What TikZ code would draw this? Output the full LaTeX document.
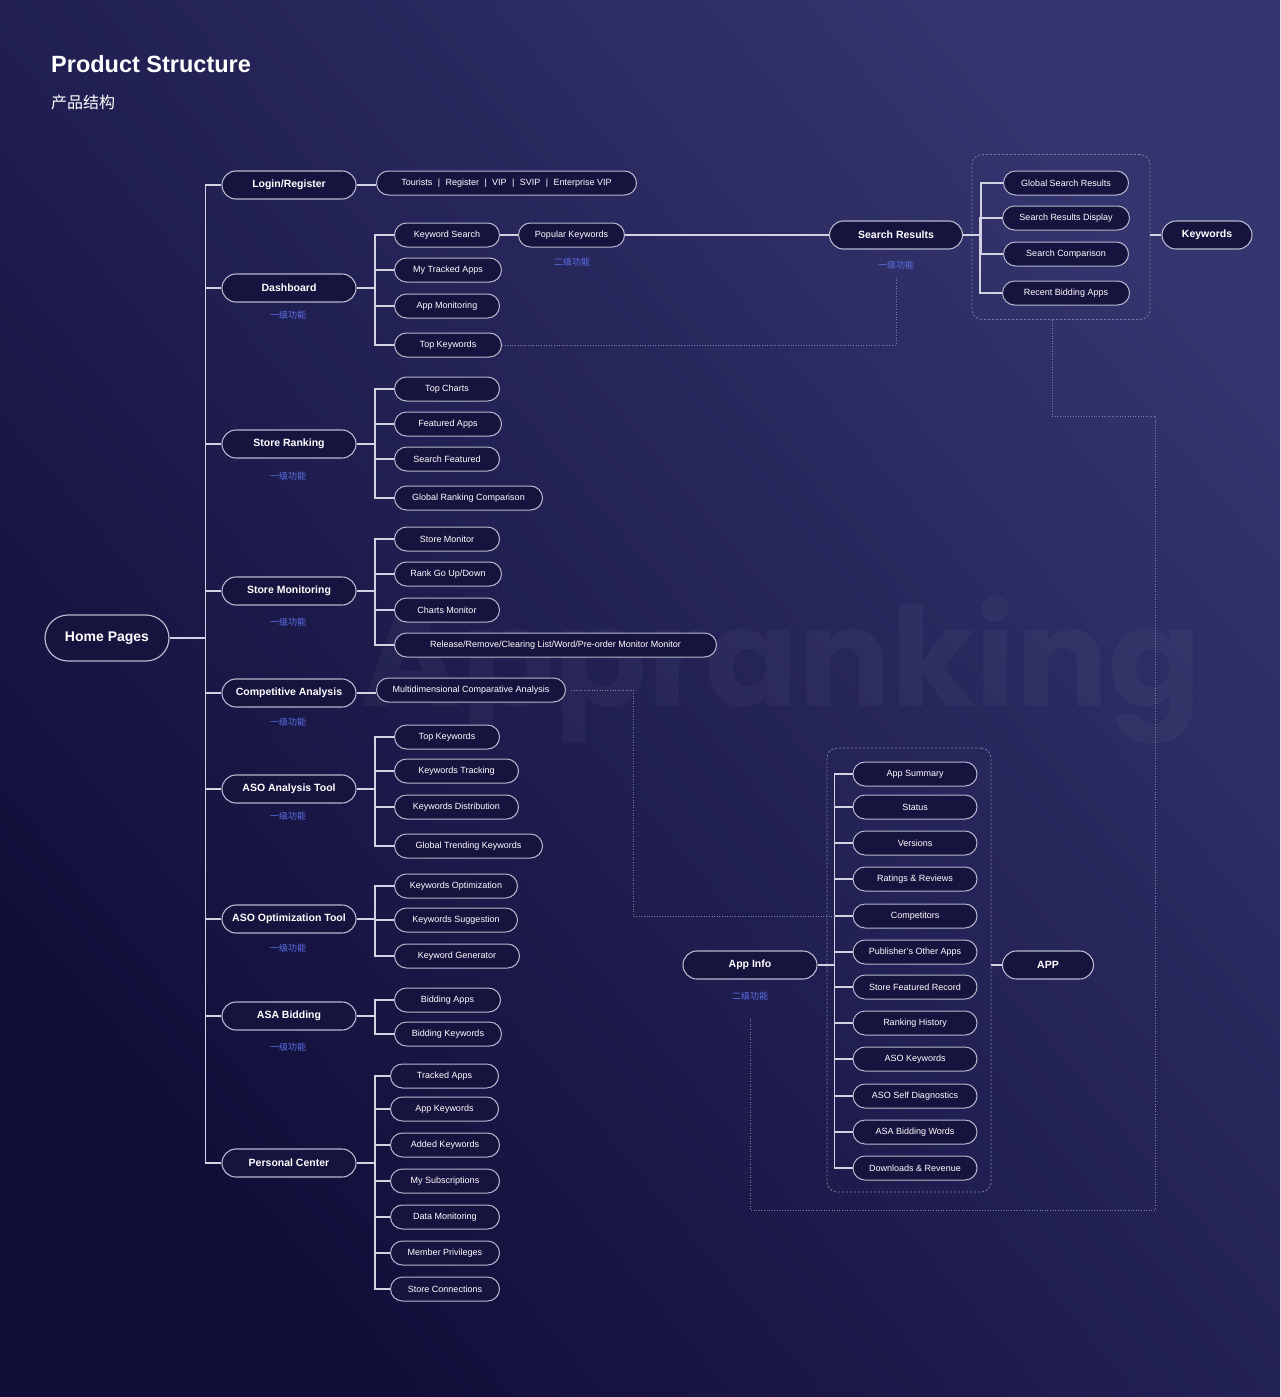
\documentclass[tikz,border=0pt]{standalone}
\usepackage{fontspec}
\setmainfont{Liberation Sans}
\newfontfamily\cjk{Noto Sans CJK SC}
\newfontfamily\markfont{Poppins}
\usepackage{tikz}
\usetikzlibrary{shapes.misc}
\definecolor{bgTop}{HTML}{34346E}
\definecolor{bgBot}{HTML}{100D38}
\definecolor{nodeFill}{HTML}{16133F}
\definecolor{edge}{HTML}{B7B7CE}
\definecolor{wire}{HTML}{D2D2E2}
\definecolor{tagBlue}{HTML}{5C70E8}
\definecolor{dotGray}{HTML}{7E7EA6}
\tikzstyle{homeBox} = [rounded rectangle, draw=edge, line width=1.2, fill=nodeFill, text=white, minimum width=124, minimum height=46, inner sep=0, font=\fontsize{14}{16}\selectfont\bfseries]
\tikzstyle{level} = [rounded rectangle, draw=edge, line width=1.1, fill=nodeFill, text=white, minimum width=134, minimum height=28, inner sep=0, font=\fontsize{10.5}{12}\selectfont\bfseries]
\tikzstyle{sub} = [rounded rectangle, draw=edge, line width=1, fill=nodeFill, text=white, minimum width=105, minimum height=24, inner sep=0, font=\fontsize{9}{10}\selectfont]
\tikzstyle{tag} = [text=tagBlue, inner sep=0, font=\cjk\fontsize{9}{10}\selectfont]
\tikzstyle{group} = [draw=dotGray, line width=0.8, dash pattern=on 2 off 2, rounded corners=10, minimum width=178, minimum height=165]
\tikzstyle{link} = [draw=wire, line width=1.2]
\tikzstyle{dotline} = [draw=dotGray, line width=0.9, dash pattern=on 1 off 1.6]
\newcommand{\sepbar}{\hspace{0.6em}|\hspace{0.6em}}
\begin{document}
\begin{tikzpicture}[x=1pt, y=-1pt]

\shade[top color=bgTop, bottom color=bgBot, shading angle=-50] (0,0) rectangle (1280,1397);
\useasboundingbox (0,0) rectangle (1280,1397);
\node (mark) [anchor=base west, inner sep=0, text=white, opacity=0.035, font=\markfont\bfseries\fontsize{137}{140}\selectfont] at (360,706) {Appranking};

\node (title) [anchor=base west, inner sep=0, text=white, font=\fontsize{23.5}{26}\selectfont\bfseries] at (51,73) {Product Structure};
\node (subtitle) [anchor=west, inner sep=0, text=white, font=\cjk\fontsize{16}{18}\selectfont] at (51,102) {产品结构};

\node (home) [homeBox] at (107,638) {Home Pages};

\node (login) [level] at (289,185) {Login/Register};
\node (dash) [level] at (289,288) {Dashboard};
\node (ranking) [level] at (289,444) {Store Ranking};
\node (monitor) [level] at (289,591) {Store Monitoring};
\node (compete) [level] at (289,693) {Competitive Analysis};
\node (asoAna) [level] at (289,789) {ASO Analysis Tool};
\node (asoOpt) [level] at (289,919) {ASO Optimization Tool};
\node (asa) [level] at (289,1016) {ASA Bidding};
\node (personal) [level] at (289,1163) {Personal Center};

\node (dashTag) [tag] at (288,315) {一级功能};
\node (rankingTag) [tag] at (288,476) {一级功能};
\node (monitorTag) [tag] at (288,622) {一级功能};
\node (competeTag) [tag] at (288,722) {一级功能};
\node (asoAnaTag) [tag] at (288,816) {一级功能};
\node (asoOptTag) [tag] at (288,948) {一级功能};
\node (asaTag) [tag] at (288,1047) {一级功能};

\coordinate (bx) at (375,0);

\node (tourists) [sub, anchor=west, minimum width=260] at (376,183) {Tourists\sepbar Register\sepbar VIP\sepbar SVIP\sepbar Enterprise VIP};

\node (kwSearch) [sub, anchor=west] at (394,235) {Keyword Search};
\node (trackedApps) [sub, anchor=west, minimum width=107] at (394,270) {My Tracked Apps};
\node (appMon) [sub, anchor=west] at (394,306) {App Monitoring};
\node (topKw) [sub, anchor=west, minimum width=107] at (394,345) {Top Keywords};
\node (popKw) [sub, anchor=west, minimum width=106] at (518,235) {Popular Keywords};
\node (popKwTag) [tag] at (572,262) {二级功能};

\node (searchRes) [level, minimum width=133] at (896,235) {Search Results};
\node (searchResTag) [tag] at (896,265) {一级功能};
\node (searchBox) [group] at (1061,237) {};
\node (globalRes) [sub, minimum width=125] at (1066,183) {Global Search Results};
\node (resDisplay) [sub, minimum width=127] at (1066,218) {Search Results Display};
\node (resCompare) [sub, minimum width=125] at (1066,254) {Search Comparison};
\node (recentBid) [sub, minimum width=127] at (1066,293) {Recent Bidding Apps};
\node (keywords) [level, minimum width=90] at (1207,235) {Keywords};

\node (topCharts) [sub, anchor=west] at (394,389) {Top Charts};
\node (featApps) [sub, anchor=west, minimum width=107] at (394,424) {Featured Apps};
\node (searchFeat) [sub, anchor=west] at (394,459) {Search Featured};
\node (globalRank) [sub, anchor=west, minimum width=148] at (394,498) {Global Ranking Comparison};

\node (storeMon) [sub, anchor=west] at (394,539) {Store Monitor};
\node (rankUpDown) [sub, anchor=west, minimum width=107] at (394,574) {Rank Go Up/Down};
\node (chartsMon) [sub, anchor=west] at (394,610) {Charts Monitor};
\node (releaseMon) [sub, anchor=west, minimum width=322] at (394,645) {Release/Remove/Clearing List/Word/Pre-order Monitor Monitor};

\node (multiAna) [sub, anchor=west, minimum width=189] at (376,690) {Multidimensional Comparative Analysis};

\node (topKwTwo) [sub, anchor=west] at (394,737) {Top Keywords};
\node (kwTrack) [sub, anchor=west, minimum width=124] at (394,771) {Keywords Tracking};
\node (kwDist) [sub, anchor=west, minimum width=124] at (394,807) {Keywords Distribution};
\node (trendKw) [sub, anchor=west, minimum width=148] at (394,846) {Global Trending Keywords};

\node (kwOpt) [sub, anchor=west, minimum width=123] at (394,886) {Keywords Optimization};
\node (kwSuggest) [sub, anchor=west, minimum width=123] at (394,920) {Keywords Suggestion};
\node (kwGen) [sub, anchor=west, minimum width=125] at (394,956) {Keyword Generator};

\node (bidApps) [sub, anchor=west, minimum width=106] at (394,1000) {Bidding Apps};
\node (bidKw) [sub, anchor=west, minimum width=107] at (394,1034) {Bidding Keywords};

\node (pcTracked) [sub, anchor=west, minimum width=108] at (390,1076) {Tracked Apps};
\node (pcAppKw) [sub, anchor=west, minimum width=108] at (390,1109) {App Keywords};
\node (pcAdded) [sub, anchor=west, minimum width=109] at (390,1145) {Added Keywords};
\node (pcSubs) [sub, anchor=west, minimum width=109] at (390,1181) {My Subscriptions};
\node (pcData) [sub, anchor=west, minimum width=109] at (390,1217) {Data Monitoring};
\node (pcMember) [sub, anchor=west, minimum width=109] at (390,1253) {Member Privileges};
\node (pcStore) [sub, anchor=west, minimum width=109] at (390,1289) {Store Connections};

\node (appInfo) [level] at (750,965) {App Info};
\node (appInfoTag) [tag] at (750,996) {二级功能};
\node (appBox) [group, minimum width=164, minimum height=444] at (909,970) {};
\node (appSum) [sub, minimum width=124] at (915,774) {App Summary};
\node (status) [sub, minimum width=124] at (915,807) {Status};
\node (versions) [sub, minimum width=124] at (915,843) {Versions};
\node (ratings) [sub, minimum width=124] at (915,879) {Ratings \& Reviews};
\node (competitors) [sub, minimum width=124] at (915,916) {Competitors};
\node (pubApps) [sub, minimum width=124] at (915,952) {Publisher's Other Apps};
\node (featRecord) [sub, minimum width=124] at (915,987) {Store Featured Record};
\node (rankHist) [sub, minimum width=124] at (915,1023) {Ranking History};
\node (asoKw) [sub, minimum width=124] at (915,1059) {ASO Keywords};
\node (selfDiag) [sub, minimum width=124] at (915,1096) {ASO Self Diagnostics};
\node (asaWords) [sub, minimum width=124] at (915,1132) {ASA Bidding Words};
\node (downloads) [sub, minimum width=124] at (915,1168) {Downloads \& Revenue};
\node (appNode) [level, minimum width=91] at (1048,965) {APP};

\coordinate (rightTurn) at (1155,416);
\coordinate (bottomTurn) at (1155,1210);
\coordinate (midTurn) at (633,916);

\draw [link] (login.west) -- ++(-16,0) |- (home.east);
\draw [link] (dash.west) -- ++(-16,0) |- (home.east);
\draw [link] (ranking.west) -- ++(-16,0) |- (home.east);
\draw [link] (monitor.west) -- ++(-16,0) |- (home.east);
\draw [link] (compete.west) -- ++(-16,0) |- (home.east);
\draw [link] (asoAna.west) -- ++(-16,0) |- (home.east);
\draw [link] (asoOpt.west) -- ++(-16,0) |- (home.east);
\draw [link] (asa.west) -- ++(-16,0) |- (home.east);
\draw [link] (personal.west) -- ++(-16,0) |- (home.east);

\draw [link] (login.east) -- (login.east -| tourists.west);
\draw [link] (compete.east) -- (compete.east -| multiAna.west);

\draw [link] (kwSearch.west) -- (kwSearch.west -| bx) |- (dash.east);
\draw [link] (trackedApps.west) -- (trackedApps.west -| bx) |- (dash.east);
\draw [link] (appMon.west) -- (appMon.west -| bx) |- (dash.east);
\draw [link] (topKw.west) -- (topKw.west -| bx) |- (dash.east);
\draw [link] (kwSearch.east) -- (popKw.west);
\draw [link] (popKw.east) -- (searchRes.west);

\draw [link] (globalRes.west) -- ++(-22,0) |- (searchRes.east);
\draw [link] (resDisplay.west) -- ++(-22,0) |- (searchRes.east);
\draw [link] (resCompare.west) -- ++(-22,0) |- (searchRes.east);
\draw [link] (recentBid.west) -- ++(-22,0) |- (searchRes.east);
\draw [link] (searchBox.east |- keywords) -- (keywords.west);

\draw [link] (topCharts.west) -- (topCharts.west -| bx) |- (ranking.east);
\draw [link] (featApps.west) -- (featApps.west -| bx) |- (ranking.east);
\draw [link] (searchFeat.west) -- (searchFeat.west -| bx) |- (ranking.east);
\draw [link] (globalRank.west) -- (globalRank.west -| bx) |- (ranking.east);

\draw [link] (storeMon.west) -- (storeMon.west -| bx) |- (monitor.east);
\draw [link] (rankUpDown.west) -- (rankUpDown.west -| bx) |- (monitor.east);
\draw [link] (chartsMon.west) -- (chartsMon.west -| bx) |- (monitor.east);
\draw [link] (releaseMon.west) -- (releaseMon.west -| bx) |- (monitor.east);

\draw [link] (topKwTwo.west) -- (topKwTwo.west -| bx) |- (asoAna.east);
\draw [link] (kwTrack.west) -- (kwTrack.west -| bx) |- (asoAna.east);
\draw [link] (kwDist.west) -- (kwDist.west -| bx) |- (asoAna.east);
\draw [link] (trendKw.west) -- (trendKw.west -| bx) |- (asoAna.east);

\draw [link] (kwOpt.west) -- (kwOpt.west -| bx) |- (asoOpt.east);
\draw [link] (kwSuggest.west) -- (kwSuggest.west -| bx) |- (asoOpt.east);
\draw [link] (kwGen.west) -- (kwGen.west -| bx) |- (asoOpt.east);

\draw [link] (bidApps.west) -- (bidApps.west -| bx) |- (asa.east);
\draw [link] (bidKw.west) -- (bidKw.west -| bx) |- (asa.east);

\draw [link] (pcTracked.west) -- (pcTracked.west -| bx) |- (personal.east);
\draw [link] (pcAppKw.west) -- (pcAppKw.west -| bx) |- (personal.east);
\draw [link] (pcAdded.west) -- (pcAdded.west -| bx) |- (personal.east);
\draw [link] (pcSubs.west) -- (pcSubs.west -| bx) |- (personal.east);
\draw [link] (pcData.west) -- (pcData.west -| bx) |- (personal.east);
\draw [link] (pcMember.west) -- (pcMember.west -| bx) |- (personal.east);
\draw [link] (pcStore.west) -- (pcStore.west -| bx) |- (personal.east);

\draw [link] (appSum.west) -- ++(-18,0) |- (appInfo.east);
\draw [link] (status.west) -- ++(-18,0) |- (appInfo.east);
\draw [link] (versions.west) -- ++(-18,0) |- (appInfo.east);
\draw [link] (ratings.west) -- ++(-18,0) |- (appInfo.east);
\draw [link] (competitors.west) -- ++(-18,0) |- (appInfo.east);
\draw [link] (pubApps.west) -- ++(-18,0) |- (appInfo.east);
\draw [link] (featRecord.west) -- ++(-18,0) |- (appInfo.east);
\draw [link] (rankHist.west) -- ++(-18,0) |- (appInfo.east);
\draw [link] (asoKw.west) -- ++(-18,0) |- (appInfo.east);
\draw [link] (selfDiag.west) -- ++(-18,0) |- (appInfo.east);
\draw [link] (asaWords.west) -- ++(-18,0) |- (appInfo.east);
\draw [link] (downloads.west) -- ++(-18,0) |- (appInfo.east);
\draw [link] (appBox.east |- appNode) -- (appNode.west);

\draw [dotline] (topKw.east) -| ([yshift=-7]searchResTag.south);
\draw [dotline] ([xshift=-9]searchBox.south) |- (rightTurn) -- (bottomTurn) -| ([yshift=-18]appInfoTag.south);
\draw [dotline] ([xshift=5]multiAna.east) -| (midTurn) -- ([xshift=-18]competitors.west);

\end{tikzpicture}
\end{document}
